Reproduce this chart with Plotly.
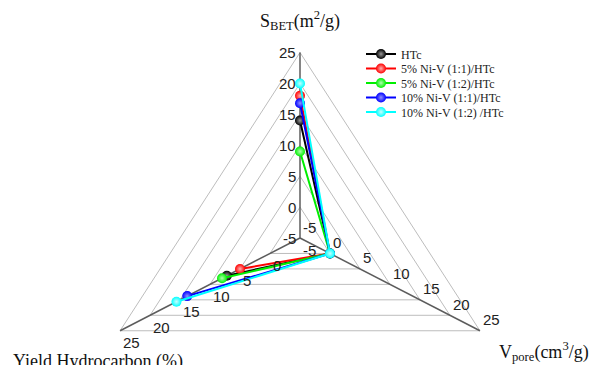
import math
import plotly.graph_objects as go

# ---------------- data ----------------
axes_names = ["S<sub>BET</sub>(m<sup>2</sup>/g)",
              "V<sub>pore</sub>(cm<sup>3</sup>/g)",
              "Yield Hydrocarbon (%)"]
axis_ticks = [-5, 0, 5, 10, 15, 20, 25]
grid_levels = [0, 5, 10, 15, 20, 25]

series_names = ["HTc", "5% Ni-V (1:1)/HTc", "5% Ni-V (1:2)/HTc",
                "10% Ni-V (1:1)/HTc", "10% Ni-V (1:2) /HTc"]
series_colors = ["#000000", "#ff0000", "#00ee00", "#0000ff", "#00ffff"]
series_tints = ["#9a9a9a", "#ffb0b0", "#b0ffb0", "#9090ff", "#c8ffff"]

s_bet = [14.0, 18.0, 9.0, 16.8, 20.0]     # top axis
v_pore = [0.0, 0.0, 0.0, 0.0, 0.0]        # lower-right axis
yield_hc = [7.2, 5.0, 8.0, 13.8, 15.6]    # lower-left axis

# ---------------- radar scale ----------------
R_MIN, R_MAX = -5, 25
AXIS_ANGLES = [0.0, 120.0, 240.0]   # clockwise from the top
X_STRETCH = 1.12                    # the original chart is wider than tall


def radar_xy(value, k):
    f = (value - R_MIN) / (R_MAX - R_MIN)
    a = math.radians(AXIS_ANGLES[k])
    return f * math.sin(a) * X_STRETCH, f * math.cos(a)


fig = go.Figure()

# triangular grid
gx, gy = [], []
for lv in grid_levels:
    for k in [0, 1, 2, 0]:
        x, y = radar_xy(lv, k)
        gx.append(x)
        gy.append(y)
    gx.append(None)
    gy.append(None)
fig.add_trace(go.Scatter(x=gx, y=gy, mode="lines", hoverinfo="skip",
                         line=dict(color="#bdbdbd", width=1), showlegend=False))

# axis spokes
ax_x, ax_y = [], []
for k in range(3):
    x0, y0 = radar_xy(R_MIN, k)
    x1, y1 = radar_xy(R_MAX, k)
    ax_x += [x0, x1, None]
    ax_y += [y0, y1, None]
fig.add_trace(go.Scatter(x=ax_x, y=ax_y, mode="lines", hoverinfo="skip",
                         line=dict(color="#5c5c5c", width=1.5), showlegend=False))

# data series (open path S_BET -> V_pore -> Yield)
legend_ids = ["legend", "legend2", "legend3", "legend4", "legend5"]
for i, name in enumerate(series_names):
    vals = [s_bet[i], v_pore[i], yield_hc[i]]
    pts = [radar_xy(v, k) for k, v in enumerate(vals)]
    fig.add_trace(go.Scatter(
        x=[p[0] for p in pts], y=[p[1] for p in pts],
        mode="lines+markers", name=name, legend=legend_ids[i],
        line=dict(color=series_colors[i], width=2),
        marker=dict(size=10, color=series_colors[i],
                    gradient=dict(type="radial", color=series_tints[i]),
                    line=dict(width=0)),
    ))

annotations = []
tick_font = dict(family="Liberation Sans, Arial", size=15, color="#222222")
for t in axis_ticks:
    x, y = radar_xy(t, 0)
    annotations.append(dict(x=x, y=y, text=str(t), showarrow=False, xanchor="right",
                            yanchor="middle", xshift=-2, font=tick_font))
    x, y = radar_xy(t, 1)
    annotations.append(dict(x=x, y=y, text=str(t), showarrow=False, xanchor="left",
                            yanchor="middle", xshift=1, yshift=11, font=tick_font))
    x, y = radar_xy(t, 2)
    annotations.append(dict(x=x, y=y, text=str(t), showarrow=False, xanchor="left",
                            yanchor="middle", xshift=1, yshift=-12, font=tick_font))

title_font = dict(family="Liberation Serif, Times New Roman", size=18, color="#111111")
W, H = 593, 365
annotations.append(dict(xref="paper", yref="paper", x=300 / W, y=1 - 21 / H,
                        text=axes_names[0], showarrow=False, xanchor="center",
                        yanchor="middle", font=title_font))
annotations.append(dict(xref="paper", yref="paper", x=544 / W, y=1 - 351 / H,
                        text=axes_names[1], showarrow=False, xanchor="center",
                        yanchor="middle", font=title_font))
annotations.append(dict(xref="paper", yref="paper", x=11 / W, y=1 - 349 / H,
                        text=axes_names[2], showarrow=False, xanchor="left",
                        yanchor="top", font=title_font))

PX = 185.5  # px per radar unit
CX, CY = 300, 238
layout_legends = {}
row_centers = [54, 68.5, 83, 97.5, 112]
for lid, rc in zip(legend_ids, row_centers):
    layout_legends[lid] = dict(
        x=361 / W, xanchor="left", y=1 - (rc - 14.5) / H, yanchor="top",
        bgcolor="rgba(0,0,0,0)", borderwidth=0,
        font=dict(family="Liberation Serif, Times New Roman", size=12, color="#222222"))

fig.update_layout(
    width=W, height=H,
    margin=dict(l=0, r=0, t=0, b=0),
    paper_bgcolor="white", plot_bgcolor="white",
    xaxis=dict(visible=False, range=[-CX / PX, (W - CX) / PX], fixedrange=True),
    yaxis=dict(visible=False, range=[-(H - CY) / PX, CY / PX], fixedrange=True),
    annotations=annotations,
    **layout_legends,
)

fig.write_html("out.html")
